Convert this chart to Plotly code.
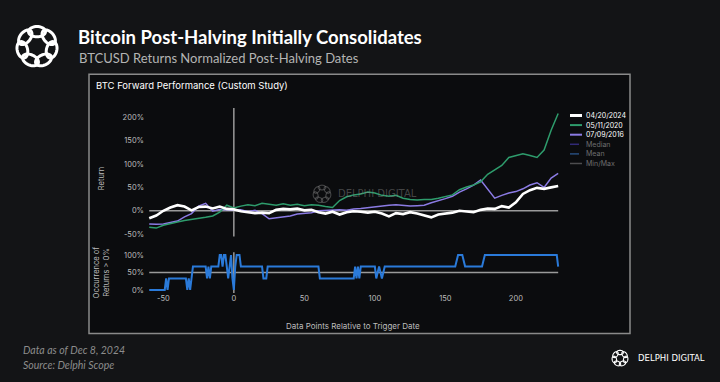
import math
import plotly.graph_objects as go

W, H = 720, 382

# ---------------- data ----------------
days = list(range(-60, 231, 5))  # data points relative to trigger date

ret_2024 = [-16, -10, 0, 7, 12, 9, 1, 8, 9, 5,
            9, 4, 3, -1, -3, -5, -4, -5, 2, 4,
            3, 5, 1, 2, -3, -6, -2, -8, -3, -1,
            -2, -4, -2, -6, -12, -5, -7, -3, -6, -10,
            -14, -8, -6, -4, 0, -2, -3, 2, 5, 4,
            10, 7, 18, 36, 44, 49, 47, 50, 53]

ret_2020 = [-35, -37, -31, -27, -24, -21, -19, -17, -14, -11,
            -3, 12, 6, 10, 13, 11, 16, 14, 12, 15,
            12, 14, 11, 13, 12, 9, 7, 22, 30, 34,
            36, 40, 38, 33, 31, 33, 27, 24, 23, 24,
            24, 27, 30, 34, 45, 51, 55, 62, 78, 88,
            97, 114, 118, 122, 118, 114, 130, 172, 208]

ret_2016 = [-28, -29, -28, -25, -22, -13, -6, 10, 16, -1,
            3, 2, 1, 2, -2, 1, -6, -17, -15, -13,
            -11, -7, -6, -4, 0, 1, 2, 2, 1, 4,
            5, 7, 8, 10, 12, 13, 12, 10, 11, 12,
            17, 21, 26, 31, 40, 47, 55, 66, 46, 27,
            33, 38, 41, 47, 55, 60, 50, 70, 80]

occ_days = [-60, -49, -48, -47, -46, -34, -33, -32, -31, -30, -29, -20, -19, -18, -17, -16,
            -11, -10, -9, -8, -7, -6, -5, -4, -3, -2, -1, 0, 1, 2, 4, 5,
            20, 21, 23, 24, 60, 61, 85, 86, 87, 88, 89, 90, 100, 101, 103, 105, 107,
            157, 159, 162, 164, 176, 178, 229, 230]
occ_pct = [0, 0, 33, 0, 33, 33, 0, 33, 0, 33, 67, 67, 33, 67, 33, 67,
           67, 100, 100, 67, 100, 100, 67, 33, 67, 100, 33, 0, 67, 100, 100, 67,
           67, 33, 33, 67, 67, 33, 33, 67, 33, 67, 33, 67, 67, 33, 67, 33, 67,
           67, 100, 100, 67, 67, 100, 100, 67]

series_names = ["04/20/2024", "05/11/2020", "07/09/2016"]
hidden_names = ["Median", "Mean", "Min/Max"]
main_yticks = [-50, 0, 50, 100, 150, 200]
main_ylabels = ["-50%", "0%", "50%", "100%", "150%", "200%"]
occ_yticks = [0, 50, 100]
occ_ylabels = ["0%", "50%", "100%"]
x_ticks = [-50, 0, 50, 100, 150, 200]
x_labels = ["-50", "0", "50", "100", "150", "200"]

# ---------------- styles ----------------
BG = "#131416"
PANEL = "#0b0c0e"
C_WHITE = "#ffffff"
C_GREEN = "#2e9c6c"
C_PURPLE = "#8b7be4"
C_BLUE = "#2a7ad9"
C_GRAY = "#9a9a9a"
TICK = "#bdbdbd"
FONT = "Inter"


def px(x):
    return x / W


def py(y):
    return 1 - y / H


fig = go.Figure()

fig.add_trace(go.Scatter(x=days, y=ret_2016, mode="lines", name=series_names[2],
                         line=dict(color=C_PURPLE, width=1.5), xaxis="x", yaxis="y"))
fig.add_trace(go.Scatter(x=days, y=ret_2020, mode="lines", name=series_names[1],
                         line=dict(color=C_GREEN, width=1.5), xaxis="x", yaxis="y"))
fig.add_trace(go.Scatter(x=days, y=ret_2024, mode="lines", name=series_names[0],
                         line=dict(color=C_WHITE, width=2.6), xaxis="x", yaxis="y"))
fig.add_trace(go.Scatter(x=occ_days, y=occ_pct, mode="lines", name="Occurrence",
                         line=dict(color=C_BLUE, width=2), xaxis="x2", yaxis="y2"))

shapes = []
# panel
shapes.append(dict(type="rect", xref="paper", yref="paper", x0=px(89), x1=px(630), y0=py(335), y1=py(73),
                   line=dict(color="#8a8a8a", width=1.5), fillcolor=PANEL, layer="below"))
# reference lines
shapes.append(dict(type="line", xref="x", yref="y", x0=days[0], x1=days[-1], y0=0, y1=0,
                   line=dict(color=C_GRAY, width=1.5), layer="below"))
shapes.append(dict(type="line", xref="x", yref="y domain", x0=0, x1=0, y0=0, y1=1,
                   line=dict(color=C_GRAY, width=1.5), layer="below"))
shapes.append(dict(type="line", xref="x2", yref="y2", x0=days[0], x1=days[-1], y0=50, y1=50,
                   line=dict(color=C_GRAY, width=1.5), layer="below"))
shapes.append(dict(type="line", xref="x2", yref="y2 domain", x0=0, x1=0, y0=0, y1=1,
                   line=dict(color=C_GRAY, width=1.5), layer="below"))


def ring_shapes(cx, cy, R, a, b, n, color, width, phase=0.0, layer="above"):
    out = []
    for k in range(n):
        th = phase + 2 * math.pi * k / n
        ex, ey = cx + R * math.cos(th), cy + R * math.sin(th)
        pts = []
        for i in range(41):
            t = 2 * math.pi * i / 40
            u, v = a * math.cos(t), b * math.sin(t)
            X = ex + u * (-math.sin(th)) + v * math.cos(th)
            Y = ey + u * math.cos(th) + v * math.sin(th)
            pts.append((px(X), py(Y)))
        path = "M " + " L ".join(f"{p[0]:.5f},{p[1]:.5f}" for p in pts) + " Z"
        out.append(dict(type="path", xref="paper", yref="paper", path=path,
                        line=dict(color=color, width=width), layer=layer))
    return out


shapes += ring_shapes(37, 45, 15, 8.5, 5.2, 7, "#ffffff", 3, phase=-math.pi / 2)
shapes += ring_shapes(620, 360, 5.8, 3.4, 2.2, 7, "#ffffff", 1.1, phase=-math.pi / 2)
shapes += ring_shapes(322, 194, 6.5, 3.8, 2.4, 7, "rgba(140,140,140,0.45)", 1.1, phase=-math.pi / 2, layer="below")

# custom legend
leg_colors = [C_WHITE, C_GREEN, C_PURPLE, "rgba(75,63,190,0.6)", "rgba(58,120,200,0.6)", "rgba(200,200,200,0.35)"]
leg_widths = [3, 2, 2, 1.5, 1.5, 1.5]
leg_dash = ["solid", "solid", "solid", "dash", "dash", "solid"]
leg_text_col = ["#ffffff", "#ffffff", "#ffffff", "#6e6e6e", "#6e6e6e", "#6e6e6e"]
annotations = []
for i, name in enumerate(series_names + hidden_names):
    yy = 114.7 + 9.7 * i
    shapes.append(dict(type="line", xref="paper", yref="paper", x0=px(570), x1=px(582), y0=py(yy), y1=py(yy),
                       line=dict(color=leg_colors[i], width=leg_widths[i], dash=leg_dash[i])))
    annotations.append(dict(xref="paper", yref="paper", x=px(584), y=py(yy), text=name, showarrow=False,
                            xanchor="left", yanchor="middle", font=dict(family=FONT, size=7, color=leg_text_col[i])))

annotations += [
    dict(xref="paper", yref="paper", x=px(76), y=py(35), text="<b>Bitcoin Post-Halving Initially Consolidates</b>",
         showarrow=False, xanchor="left", yanchor="middle", font=dict(family="Lato", size=18.5, color="#ffffff")),
    dict(xref="paper", yref="paper", x=px(77), y=py(57), text="BTCUSD Returns Normalized Post-Halving Dates",
         showarrow=False, xanchor="left", yanchor="middle", font=dict(family="Lato", size=13, color="#b4b4b4")),
    dict(xref="paper", yref="paper", x=px(94), y=py(84), text="BTC Forward Performance (Custom Study)",
         showarrow=False, xanchor="left", yanchor="middle", font=dict(family=FONT, size=9.5, color="#ffffff")),
    dict(xref="paper", yref="paper", x=px(101), y=py(179), text="Return", textangle=-90,
         showarrow=False, xanchor="center", yanchor="middle", font=dict(family=FONT, size=7.5, color=TICK)),
    dict(xref="paper", yref="paper", x=px(101), y=py(274), text="Occurrence of<br>Returns > 0%", textangle=-90,
         showarrow=False, xanchor="center", yanchor="middle", font=dict(family=FONT, size=7.5, color=TICK)),
    dict(xref="paper", yref="paper", x=px(353), y=py(327), text="Data Points Relative to Trigger Date",
         showarrow=False, xanchor="center", yanchor="middle", font=dict(family=FONT, size=8, color=TICK)),
    dict(xref="paper", yref="paper", x=px(336), y=py(194), text="DELPHI DIGITAL",
         showarrow=False, xanchor="left", yanchor="middle",
         font=dict(family="DejaVu Sans", size=10, color="rgba(140,140,140,0.45)")),
    dict(xref="paper", yref="paper", x=px(21), y=py(352), text="<i>Data as of Dec 8, 2024</i>",
         showarrow=False, xanchor="left", yanchor="middle", font=dict(family="Lato", size=10.5, color="#8c8c8c")),
    dict(xref="paper", yref="paper", x=px(21), y=py(367), text="<i>Source: Delphi Scope</i>",
         showarrow=False, xanchor="left", yanchor="middle", font=dict(family="Lato", size=10.5, color="#8c8c8c")),
    dict(xref="paper", yref="paper", x=px(636), y=py(360), text="DELPHI DIGITAL",
         showarrow=False, xanchor="left", yanchor="middle", font=dict(family="DejaVu Sans", size=8.5, color="#ffffff")),
]

axis_common = dict(showgrid=False, zeroline=False, showline=False, ticks="")
tickfont = dict(family=FONT, size=7.5, color=TICK)
fig.update_layout(
    width=W, height=H,
    margin=dict(l=0, r=0, t=0, b=0),
    paper_bgcolor=BG, plot_bgcolor="rgba(0,0,0,0)",
    showlegend=False,
    hovermode=False,
    shapes=shapes,
    annotations=annotations,
    xaxis=dict(domain=[px(145), px(561)], range=[-63, 232], showticklabels=False, anchor="y", **axis_common),
    yaxis=dict(domain=[py(237), py(107)], range=[-55, 220], tickvals=main_yticks, ticktext=main_ylabels,
               tickfont=tickfont, anchor="x", **axis_common),
    xaxis2=dict(domain=[px(145), px(561)], range=[-63, 232], tickvals=x_ticks, ticktext=x_labels, anchor="y2",
                tickfont=tickfont, **axis_common),
    yaxis2=dict(domain=[py(294), py(253)], range=[-8.5, 107.6], tickvals=occ_yticks, ticktext=occ_ylabels,
                tickfont=tickfont, anchor="x2", **axis_common),
)

fig.write_html("out.html", config={"displayModeBar": False},
               post_script="document.body.style.margin='0';document.body.style.overflow='hidden';")
